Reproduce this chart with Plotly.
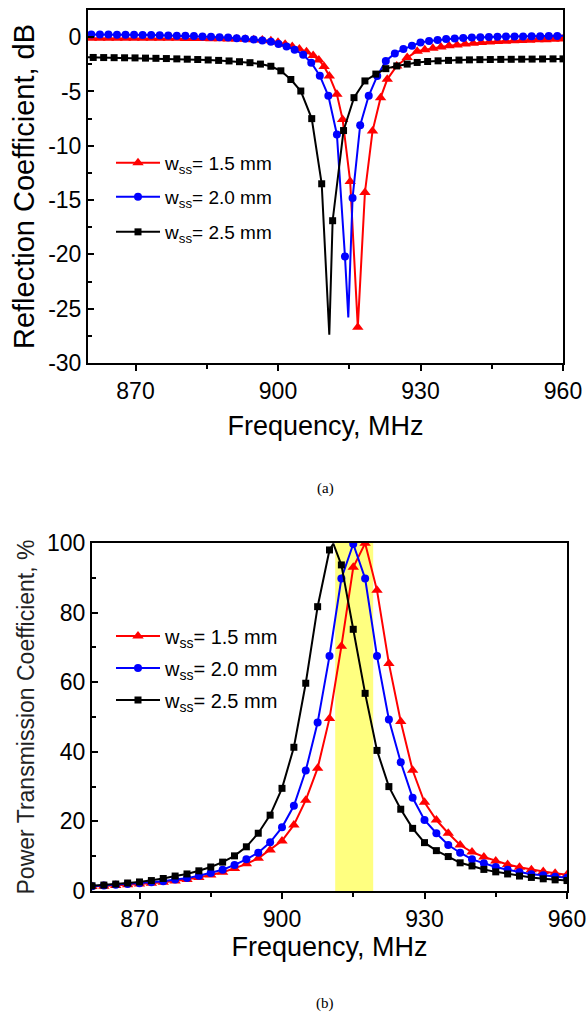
import plotly.graph_objects as go

# ---------------- (a) Reflection coefficient (dB) ----------------
labels = ["w<sub>ss</sub>= 1.5 mm", "w<sub>ss</sub>= 2.0 mm", "w<sub>ss</sub>= 2.5 mm"]
colors = ["#ff0000", "#0000ff", "#000000"]
symbols = ["triangle-up", "circle", "square"]

# w_ss = 1.5 mm (marker points)
fa_15 = [860.7, 862.5, 864.3, 866.1, 867.9, 869.7, 871.5, 873.3, 875.1, 876.9, 878.7,
         880.5, 882.3, 884.1, 885.9, 887.7, 889.5, 891.3, 893.1, 894.9, 896.7, 898.5,
         900.0, 901.5, 903.0, 904.5, 906.0, 907.4, 908.6, 909.7, 910.8, 912.4, 913.6,
         915.2, 916.8, 918.3, 919.9, 921.6, 923.0, 925.0, 927.2, 929.3, 930.9, 932.6,
         934.3, 936.0, 937.7, 939.4, 941.1, 942.8, 944.5, 946.2, 947.9, 949.6, 951.3,
         953.0, 954.7, 956.4, 958.1, 959.8]
ra_15 = [-0.10, -0.10, -0.10, -0.10, -0.10, -0.10, -0.10, -0.10, -0.10, -0.11, -0.11,
         -0.12, -0.12, -0.13, -0.14, -0.15, -0.16, -0.18, -0.20, -0.23, -0.27, -0.34,
         -0.48, -0.66, -0.86, -1.08, -1.35, -1.70, -2.10, -2.70, -3.57, -5.26, -7.57,
         -13.3, -26.7, -14.3, -8.65, -5.57, -3.88, -2.65, -1.88, -1.30, -1.15, -1.02,
         -0.90, -0.80, -0.72, -0.64, -0.57, -0.50, -0.45, -0.41, -0.37, -0.34, -0.31,
         -0.28, -0.25, -0.23, -0.20, -0.18]
fa_15_line = [860.0, 960.0]
ra_15_line = [-0.10, -0.18]

# w_ss = 2.0 mm
fa_20 = [860.7, 862.5, 864.3, 866.1, 867.9, 869.7, 871.5, 873.3, 875.1, 876.9, 878.7,
         880.5, 882.3, 884.1, 885.9, 887.7, 889.5, 891.3, 893.1, 894.9, 896.7, 898.5,
         900.1, 901.8, 903.5, 905.3, 907.0, 908.8, 910.6, 912.4, 914.1, 915.7, 917.3,
         919.1, 920.9, 922.7, 924.6, 926.4, 928.2, 930.0, 931.8, 933.6, 935.4, 937.2,
         939.0, 940.8, 942.6, 944.4, 946.2, 948.0, 949.8, 951.6, 953.4, 955.2, 957.0,
         958.8]
ra_20 = [0.25, 0.25, 0.24, 0.23, 0.22, 0.21, 0.20, 0.19, 0.18, 0.16, 0.14,
         0.12, 0.10, 0.07, 0.04, 0.00, -0.04, -0.09, -0.15, -0.22, -0.31, -0.43,
         -0.62, -0.86, -1.15, -1.62, -2.35, -3.55, -5.40, -8.96, -20.2, -14.8, -8.10,
         -5.40, -3.57, -2.19, -1.50, -1.10, -0.80, -0.50, -0.36, -0.26, -0.18, -0.12,
         -0.07, -0.03, 0.00, 0.02, 0.04, 0.05, 0.06, 0.07, 0.08, 0.09, 0.10,
         0.11]
fa_20_line = [860.0, 914.8, 960.0]
ra_20_line = [0.25, -25.8, 0.12]

# w_ss = 2.5 mm
fa_25 = [861.1, 863.3, 865.5, 867.7, 869.9, 872.1, 874.3, 876.5, 878.7, 880.9, 883.1,
         885.3, 887.5, 889.7, 891.9, 894.1, 896.3, 898.5, 900.6, 902.7, 904.8, 907.1,
         909.2, 911.5, 913.8, 916.0, 918.3, 920.6, 922.7, 925.0, 927.2, 929.3, 931.5,
         933.7, 935.9, 938.1, 940.3, 942.5, 944.7, 946.9, 949.1, 951.3, 953.5, 955.7,
         957.9, 960.0]
ra_25 = [-1.87, -1.88, -1.89, -1.90, -1.91, -1.93, -1.95, -1.97, -2.00, -2.03, -2.06,
         -2.10, -2.14, -2.19, -2.26, -2.35, -2.48, -2.68, -3.10, -3.90, -4.96, -7.50,
         -13.5, -16.9, -8.60, -5.57, -4.03, -3.40, -2.90, -2.65, -2.48, -2.33, -2.24,
         -2.18, -2.14, -2.11, -2.09, -2.07, -2.06, -2.05, -2.04, -2.03, -2.02, -2.01,
         -2.00, -2.00]
fa_25_line = [860.0, 910.8]
ra_25_line = [-1.86, -27.4]

# ---------------- (b) Power transmission coefficient (%) ----------------
fb = [860.0, 862.5, 865.0, 867.5, 870.0, 872.5, 875.0, 877.5, 880.0, 882.5, 885.0,
      887.5, 890.0, 892.5, 895.0, 897.5, 900.0, 902.5, 905.0, 907.5, 910.0, 912.5,
      915.0, 917.5, 920.0, 922.5, 925.0, 927.5, 930.0, 932.5, 935.0, 937.5, 940.0,
      942.5, 945.0, 947.5, 950.0, 952.5, 955.0, 957.5, 960.0]
tb_15 = [1.3, 1.4, 1.6, 1.8, 2.0, 2.2, 2.5, 2.9, 3.3, 3.9, 4.6,
         5.4, 6.5, 7.8, 9.4, 11.8, 14.4, 19.0, 26.1, 35.3, 49.6, 70.3,
         93.0, 99.9, 86.4, 65.4, 48.7, 34.7, 25.5, 20.4, 16.6, 13.2, 11.2,
         9.8, 8.6, 7.6, 6.8, 6.1, 5.6, 5.1, 4.7]
tb_20 = [1.4, 1.6, 1.8, 2.0, 2.2, 2.5, 2.8, 3.3, 3.7, 4.4, 5.2,
         6.1, 7.5, 9.1, 11.0, 14.0, 18.3, 24.5, 34.6, 48.4, 67.5, 89.8,
         99.7, 89.8, 67.5, 49.3, 37.0, 26.8, 20.4, 16.6, 13.2, 11.0, 9.1,
         8.0, 6.9, 6.1, 5.4, 4.8, 4.5, 4.1, 3.8]
tb_25 = [1.5, 1.7, 2.0, 2.3, 2.6, 3.0, 3.6, 4.3, 4.9, 5.8, 6.9,
         8.3, 10.1, 12.7, 16.6, 21.8, 29.5, 41.3, 59.7, 81.7, 98.0, 93.7,
         75.2, 56.8, 40.4, 30.0, 23.5, 18.0, 13.9, 11.6, 9.9, 8.1, 7.2,
         6.2, 5.5, 4.9, 4.3, 3.9, 3.5, 3.2, 3.0]
fb_25_line = [910.8]
tb_25_line = [99.8]

band = [911.2, 919.2]  # highlighted band (MHz)

FONT = "Liberation Sans, Arial, sans-serif"
W, H = 588, 1023


def merged(fm, vm, fl, vl):
    pts = sorted(list(zip(fm, vm)) + list(zip(fl, vl)))
    return [p[0] for p in pts], [p[1] for p in pts]


fig = go.Figure()

series_a = [(fa_15, ra_15, fa_15_line, ra_15_line),
            (fa_20, ra_20, fa_20_line, ra_20_line),
            (fa_25, ra_25, fa_25_line, ra_25_line)]
series_b = [(fb, tb_15, [], []), (fb, tb_20, [], []), (fb, tb_25, fb_25_line, tb_25_line)]
msize = [10, 8, 7]

for axes, series, legs in [(("x", "y"), series_a, ["legend", "legend2", "legend3"]),
                           (("x2", "y2"), series_b, ["legend4", "legend5", "legend6"])]:
    for i, (fm, vm, fl, vl) in enumerate(series):
        lx, ly = merged(fm, vm, fl, vl)
        fig.add_trace(go.Scatter(x=lx, y=ly, mode="lines", xaxis=axes[0], yaxis=axes[1],
                                 line=dict(color=colors[i], width=2), showlegend=False))
        fig.add_trace(go.Scatter(x=fm, y=vm, mode="markers", xaxis=axes[0], yaxis=axes[1],
                                 marker=dict(color=colors[i], symbol=symbols[i], size=msize[i]),
                                 showlegend=False))
        fig.add_trace(go.Scatter(x=[None], y=[None], mode="lines+markers", xaxis=axes[0], yaxis=axes[1],
                                 name=labels[i], legend=legs[i],
                                 line=dict(color=colors[i], width=2),
                                 marker=dict(color=colors[i], symbol=symbols[i], size=msize[i])))

# yellow band
fig.add_shape(type="rect", xref="x2", yref="y2", x0=band[0], x1=band[1], y0=0, y1=100,
              fillcolor="#ffff80", line=dict(width=0), layer="below")

axis_common = dict(showline=True, linecolor="black", linewidth=2, mirror=True, automargin=False,
                   showgrid=False, zeroline=False, ticks="outside", ticklen=6, tickwidth=2,
                   tickcolor="black", tickfont=dict(family=FONT, size=23, color="black"))

xt = [870, 900, 930, 960]
xdom_a = [88 / W, 563 / W]
xdom_b = [92 / W, 567 / W]
ydom_a = [(H - 363) / H, (H - 10) / H]
ydom_b = [(H - 891) / H, (H - 543) / H]

fig.update_layout(
    width=W, height=H, margin=dict(l=0, r=0, t=0, b=0, autoexpand=False),
    paper_bgcolor="white", plot_bgcolor="white",
    xaxis=dict(axis_common, domain=xdom_a, anchor="y", range=[860, 960],
               tickvals=xt, ticktext=[str(v) for v in xt],
               minor=dict(tickvals=[885, 915, 945], ticks="outside", ticklen=4, tickwidth=2, tickcolor="black"),
               title=dict(text="Frequency, MHz", font=dict(family=FONT, size=27, color="black"), standoff=14)),
    yaxis=dict(axis_common, domain=ydom_a, anchor="x", range=[-30, 2.5], ticks="inside",
               tickvals=[0, -5, -10, -15, -20, -25, -30],
               ticktext=["0", "-5", "-10", "-15", "-20", "-25", "-30"],
               minor=dict(tickvals=[-2.5, -7.5, -12.5, -17.5, -22.5, -27.5], ticks="inside",
                          ticklen=4, tickwidth=2, tickcolor="black"),
               title=dict(text="Reflection Coefficient, dB", font=dict(family=FONT, size=29, color="black"), standoff=5)),
    xaxis2=dict(axis_common, domain=xdom_b, anchor="y2", range=[860, 960],
                tickvals=xt, ticktext=[str(v) for v in xt],
                minor=dict(tickvals=[885, 915, 945], ticks="outside", ticklen=4, tickwidth=2, tickcolor="black"),
                title=dict(text="Frequency, MHz", font=dict(family=FONT, size=27, color="black"), standoff=4)),
    yaxis2=dict(axis_common, domain=ydom_b, anchor="x2", range=[0, 100], ticks="inside",
                tickvals=[0, 20, 40, 60, 80, 100],
                minor=dict(tickvals=[10, 30, 50, 70, 90], ticks="inside", ticklen=4, tickwidth=2, tickcolor="black"),
                title=dict(text="Power Transmission Coefficient, %", font=dict(family=FONT, size=23, color="#222222"), standoff=6)),
)

leg_font = {"legend": 19, "legend2": 19, "legend3": 19, "legend4": 20, "legend5": 20, "legend6": 20}
leg_y = {"legend": 163, "legend2": 197, "legend3": 232,
         "legend4": 636, "legend5": 668, "legend6": 700}
for name, ypx in leg_y.items():
    fig.update_layout({name: dict(bgcolor="rgba(0,0,0,0)", borderwidth=0, xanchor="left", yanchor="middle",
                                  font=dict(family=FONT, size=leg_font[name], color="black"), itemwidth=44,
                                  x=111 / W, y=(H - ypx) / H)})

fig.add_annotation(text="(a)", x=325 / W, y=(H - 488) / H, xref="paper", yref="paper",
                   xanchor="center", yanchor="middle", showarrow=False,
                   font=dict(family="Liberation Serif, Times New Roman, serif", size=15, color="black"))
fig.add_annotation(text="(b)", x=325 / W, y=(H - 1003) / H, xref="paper", yref="paper",
                   xanchor="center", yanchor="middle", showarrow=False,
                   font=dict(family="Liberation Serif, Times New Roman, serif", size=15, color="black"))

fig.write_html("out.html")
